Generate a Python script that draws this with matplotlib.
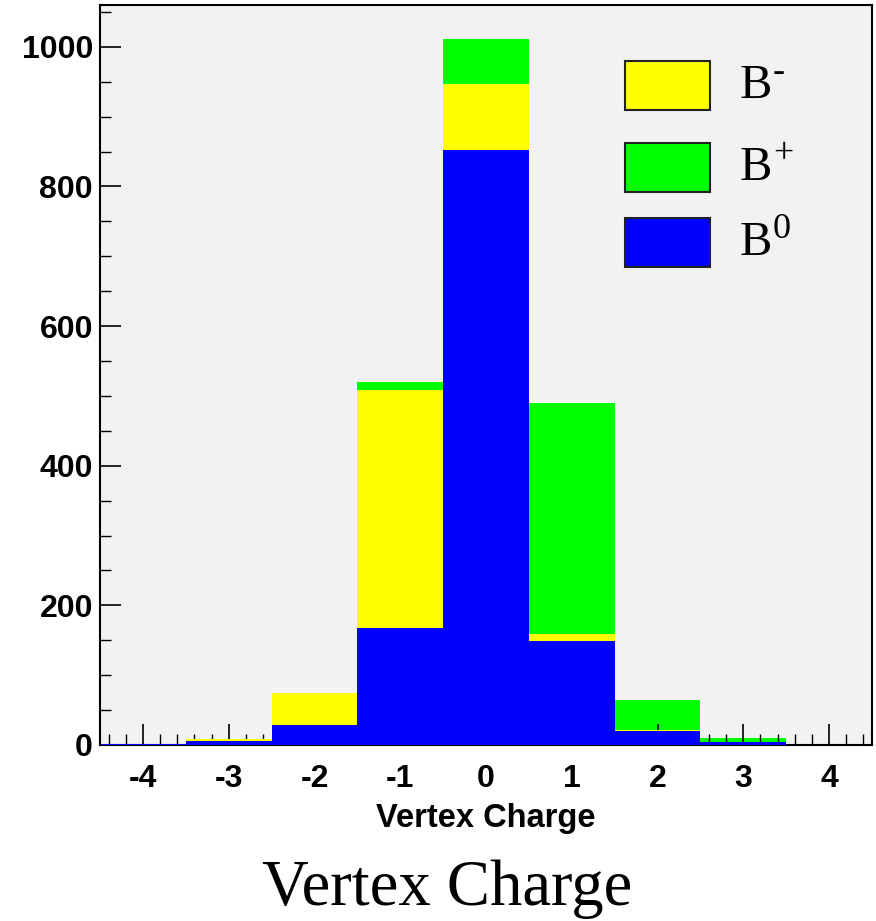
import numpy as np
import matplotlib
matplotlib.use("Agg")
import matplotlib.pyplot as plt
from matplotlib.patches import Rectangle
from matplotlib.ticker import MultipleLocator

# --- data: counts per vertex-charge bin (stacked) ---
charges = [-4, -3, -2, -1, 0, 1, 2, 3, 4]
b_zero  = [1.5, 5.5, 29, 167, 852, 149, 20, 5, 0]
b_minus = [0, 2.5, 45, 342, 95, 10, 1.5, 0, 0]
b_plus  = [0, 0, 1, 11, 64, 331, 43, 5.5, 0]

legend_sup = ["-", "+", "0"]
colors = ["#ffff00", "#00ff00", "#0000ff"]

plt.rcParams["axes.unicode_minus"] = False

fig = plt.figure(figsize=(8.76, 9.21), dpi=100)
ax = fig.add_axes([0.1142, 0.1911, 0.8812, 0.8035])
ax.set_facecolor("#f2f2f2")

x = np.array(charges)
bz = np.array(b_zero)
bm = np.array(b_minus)
bp = np.array(b_plus)

# green drawn under the tick marks, yellow/blue on top (as in the original)
ax.bar(x, bp, width=1.0, bottom=bz + bm, color=colors[1], linewidth=0, zorder=1)
ax.bar(x, bm, width=1.0, bottom=bz, color=colors[0], linewidth=0, zorder=3)
ax.bar(x, bz, width=1.0, color=colors[2], linewidth=0, zorder=3)

ax.set_xlim(-4.5, 4.5)
ax.set_ylim(0, 1060)

ax.xaxis.set_major_locator(MultipleLocator(1))
ax.xaxis.set_minor_locator(MultipleLocator(0.2))
ax.yaxis.set_major_locator(MultipleLocator(200))
ax.yaxis.set_minor_locator(MultipleLocator(50))

ax.tick_params(axis="both", which="both", direction="in", top=False, right=False)
ax.tick_params(axis="both", which="major", length=15, width=1.2)
ax.tick_params(axis="both", which="minor", length=8, width=1.0)
ax.tick_params(axis="x", which="major", pad=14)
ax.tick_params(axis="y", which="major", pad=5)
for lab in ax.get_xticklabels() + ax.get_yticklabels():
    lab.set_fontfamily("Liberation Sans")
    lab.set_fontweight("bold")
    lab.set_fontsize(23)

ax.set_xlabel("Vertex Charge", fontfamily="Liberation Sans", fontweight="bold",
              fontsize=23.5, labelpad=6)

for name, sp in ax.spines.items():
    sp.set_linewidth(1.5)
    sp.set_zorder(2.5 if name == "bottom" else 4)

# legend drawn by hand (ROOT style boxes)
box_y = [0.858, 0.747, 0.646]
for sup, col, yb in zip(legend_sup, colors, box_y):
    ax.add_patch(Rectangle((0.680, yb), 0.110, 0.066, transform=ax.transAxes,
                           facecolor=col, edgecolor="#222222", linewidth=1.5,
                           zorder=5))
    ax.text(0.829, yb + 0.033, "B", transform=ax.transAxes,
            fontfamily="Liberation Serif", fontsize=35, va="center", ha="left",
            zorder=5)
    ax.annotate(sup, xy=(0.829, yb + 0.033), xycoords="axes fraction",
                xytext=(33, 13), textcoords="offset pixels",
                fontfamily="Liberation Serif", fontsize=26,
                va="center", ha="left", zorder=5)

fig.text(0.51, 0.035, "Vertex Charge", fontfamily="Liberation Serif",
         fontsize=46.5, ha="center", va="center")

fig.savefig("out.png", dpi=100)
